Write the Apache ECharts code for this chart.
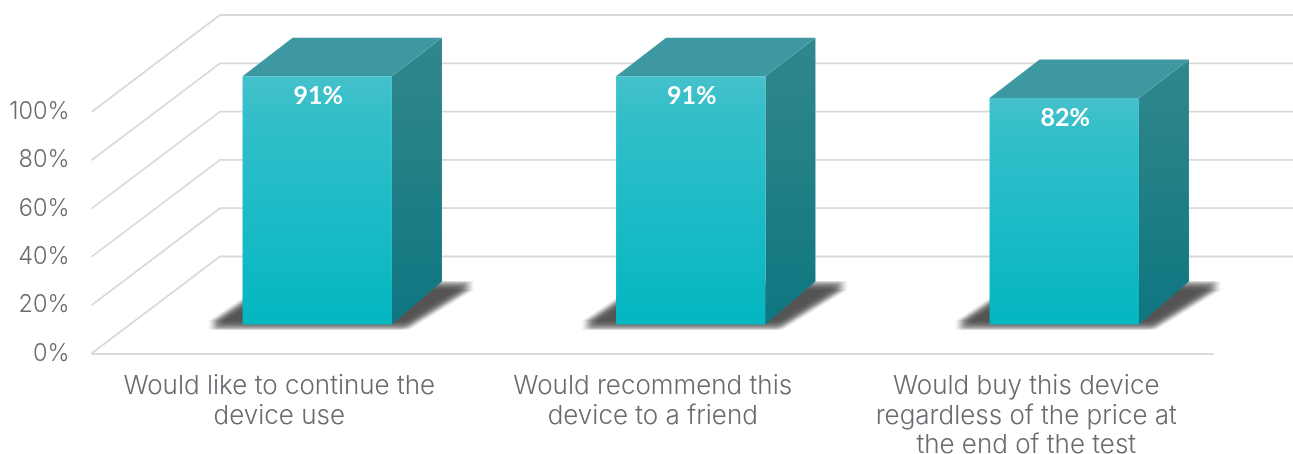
<!DOCTYPE html>
<html>
<head>
<meta charset="utf-8">
<style>html,body{margin:0;padding:0;background:#fff}#chart{width:1293px;height:454px}</style>
<script src="https://cdn.jsdelivr.net/npm/echarts@6/dist/echarts.min.js"></script>
</head>
<body>
<div id="chart"></div>
<script>
// Survey answers, percent of respondents
var categories = [
  'Would like to continue the\ndevice use',
  'Would recommend this\ndevice to a friend',
  'Would buy this device\nregardless of the price at\nthe end of the test'
];
var values = [91, 91, 82];
var valueTicks = [0, 20, 40, 60, 80, 100];

var textGrey = '#686b70';
var lineGrey = '#d8d9d9';
var labelFont = 'Inter';

// Oblique projection of the chart box
var wallDx = 127.5, wallDy = -97;   // floor front edge to back wall
var wallRight = 1293;               // back wall runs off the canvas edge
var barInset = 29;                  // bar foot sits this far above the front floor edge
var barShift = 38;                  // bar centre relative to its category centre
var barDepthX = 50, barDepthY = 38.5;
var footDepthY = 43;

function renderWall(params, api) {
  var p = api.coord([0, api.value(1)]);
  var x0 = params.coordSys.x;
  var y = p[1];
  return {
    type: 'polyline', silent: true,
    style: { stroke: lineGrey, lineWidth: 1.8, fill: null },
    shape: { points: [[x0 - 1, y], [x0 + wallDx, y + wallDy], [wallRight, y + wallDy]] }
  };
}

// Soft cast shadow: the same polygon repeated over a small offset kernel
function softShadow(points) {
  var layers = [];
  for (var dx = -4; dx <= 4; dx += 2) {
    for (var dy = -4; dy <= 4; dy += 2) {
      layers.push({
        type: 'polygon', silent: true,
        shape: { points: points.map(function (q) { return [q[0] + dx, q[1] + dy]; }) },
        style: { fill: 'rgba(66,66,74,0.085)' }
      });
    }
  }
  return layers;
}

function renderBar(params, api) {
  var i = api.value(0), v = api.value(1);
  var c = api.coord([i, v]);
  var base = api.coord([i, 0]);
  var w = api.size([1, 0])[0] * 0.4;
  var xl = c[0] + barShift - w / 2, xr = xl + w;
  // the rear top edge reads against the back wall scale
  var yBackTop = c[1] + wallDy + 1;
  var yTop = yBackTop + barDepthY;
  var yBot = base[1] - barInset;
  var yBackBot = yBot - footDepthY;

  var shadow = softShadow([
    [xl - 31, yBot + 1], [xl + 6, yBot - 24], [xl + barDepthX, yBackBot + 4],
    [xr + barDepthX + 29, yBackBot + 4], [xr + 14, yBot + 1]
  ]);
  var side = {
    type: 'polygon', silent: true,
    shape: { points: [[xr, yTop], [xr + barDepthX, yBackTop], [xr + barDepthX, yBackBot], [xr, yBot]] },
    style: { fill: { type: 'linear', x: 0, y: 0, x2: 0, y2: 1, colorStops: [
      { offset: 0, color: '#30878d' }, { offset: 0.45, color: '#228086' }, { offset: 1, color: '#0e7681' }
    ] } }
  };
  var top = {
    type: 'polygon', silent: true,
    shape: { points: [[xl, yTop], [xl + barDepthX, yBackTop], [xr + barDepthX, yBackTop], [xr, yTop]] },
    style: { fill: '#3e98a2' }
  };
  var front = {
    type: 'rect', silent: true,
    shape: { x: xl, y: yTop, width: w, height: yBot - yTop },
    style: { fill: { type: 'linear', x: 0, y: 0, x2: 0, y2: 1, colorStops: [
      { offset: 0, color: '#45c1cb' }, { offset: 0.14, color: '#34bfc9' },
      { offset: 0.45, color: '#22bcc8' }, { offset: 1, color: '#03b6c0' }
    ] } }
  };
  var label = {
    type: 'text', silent: true,
    style: { x: (xl + xr) / 2 + 1, y: yTop + 20, text: v + '%', fill: '#ffffff',
             font: '700 25px Lato', align: 'center', verticalAlign: 'middle' }
  };
  return { type: 'group', children: shadow.concat([side, top, front, label]) };
}

var chart = echarts.init(document.getElementById('chart'), null, { renderer: 'canvas' });
chart.setOption({
  animation: false,
  backgroundColor: '#ffffff',
  grid: { left: 92.5, right: 80, top: 112, bottom: 100.5, containLabel: false, outerBoundsMode: 'none' },
  xAxis: {
    type: 'category',
    data: categories,
    axisTick: { show: false },
    axisLine: { show: true, lineStyle: { color: lineGrey, width: 2 } },
    axisLabel: { color: textGrey, fontFamily: labelFont, fontWeight: 300, fontSize: 26,
                 lineHeight: 29.5, margin: 18, interval: 0, hideOverlap: false }
  },
  yAxis: {
    type: 'value', min: 0, max: 100, interval: 20,
    axisLine: { show: false }, axisTick: { show: false }, splitLine: { show: false },
    axisLabel: { color: textGrey, fontFamily: labelFont, fontWeight: 300, fontSize: 23.5,
                 margin: 23, padding: [4, 0, 0, 0], formatter: '{value}%' }
  },
  series: [
    { name: 'wall', type: 'custom', clip: false, silent: true, z: 1,
      renderItem: renderWall, encode: { x: 0, y: 1 },
      data: valueTicks.map(function (t) { return [0, t]; }) },
    { name: 'share', type: 'custom', clip: false, silent: true, z: 2,
      renderItem: renderBar, encode: { x: 0, y: 1 },
      data: values.map(function (v, i) { return [i, v]; }) }
  ]
});
</script>
</body>
</html>
